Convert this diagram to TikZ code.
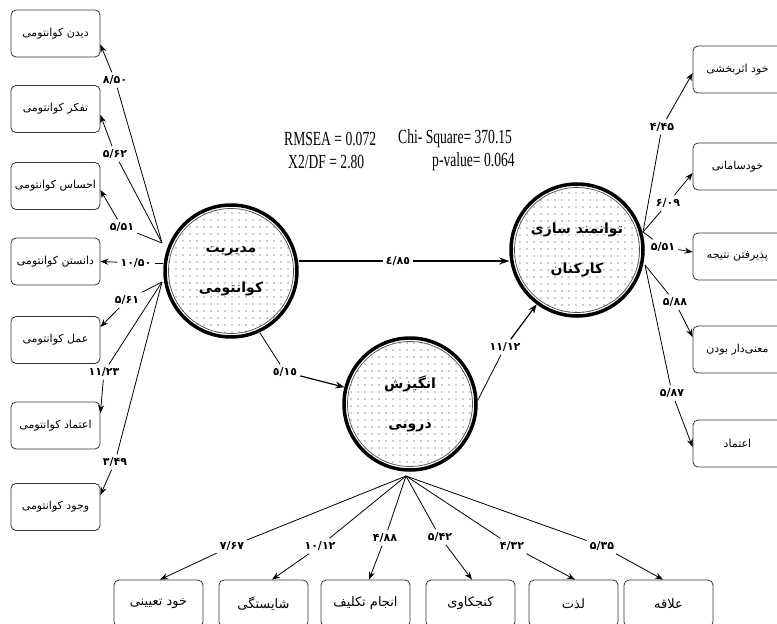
\documentclass[tikz,border=0pt]{standalone}
\usepackage{fontspec}
\usepackage{graphicx}
\setmainfont{Liberation Serif}
\newfontfamily\fa[Script=Arabic]{DejaVu Sans}
\TeXXeTstate=1
\usetikzlibrary{arrows.meta,patterns.meta,calc}
\newcommand{\statt}[1]{\scalebox{0.68}[1]{\fontsize{20}{22}\selectfont #1}}
\tikzset{
  lat/.style={circle, draw, line width=3.5pt, minimum size=132pt, inner sep=0pt,
    pattern={Dots[distance=6.5pt,radius=0.65pt]}, pattern color=black!85,
    align=center, font=\fa\bfseries\fontsize{14}{40}\selectfont},
  ring/.style={draw=black!70, line width=0.7pt},
  box/.style={draw=black!80, line width=0.8pt, rounded corners=5pt, minimum width=89pt,
    minimum height=47pt, inner sep=0pt, font=\fa\fontsize{11}{13}\selectfont},
  bbox/.style={box, font=\fa\fontsize{13}{15}\selectfont},
  lab/.style={inner sep=3pt, font=\fa\bfseries\fontsize{11}{12}\selectfont},
  con/.style={line width=0.8pt},
  arr/.style={con, -{Stealth[length=8pt,width=6pt]}},
  stat/.style={anchor=west, inner sep=0pt},
}
\begin{document}
\begin{tikzpicture}[x=1pt,y=-1pt]
\useasboundingbox (0,0) rectangle (777,624);
% latent variables
\node[lat] (L) at (231,271) {\beginR مدیریت\endR\\\beginR کوانتومی\endR};
\node[lat] (R) at (577,250) {\beginR توانمند سازی\endR\\\beginR کارکنان\endR};
\node[lat] (M) at (410,404) {\beginR انگیزش\endR\\\beginR درونی\endR};
\draw[ring] (L.center) circle[radius=62.5];
\draw[ring] (R.center) circle[radius=62.5];
\draw[ring] (M.center) circle[radius=62.5];
% fit statistics
\node[stat] (s1) at (284,139) {\statt{RMSEA = 0.072}};
\node[stat] (s2) at (398,139) {\statt{Chi- Square= 370.15}};
\node[stat] (s3) at (288,162) {\statt{X2/DF = 2.80}};
\node[stat] (s4) at (432,162) {\statt{p-value= 0.064}};
% left indicators
\node[box] (b1) at (55.5,33.5) {\beginR دیدن کوانتومی\endR};
\node[box] (b2) at (55.5,109) {\beginR تفکر کوانتومی\endR};
\node[box] (b3) at (55.5,186) {\beginR احساس کوانتومی\endR};
\node[box] (b4) at (55.5,261.5) {\beginR دانستن کوانتومی\endR};
\node[box] (b5) at (55.5,340) {\beginR عمل کوانتومی\endR};
\node[box] (b6) at (55.5,425.5) {\beginR اعتماد کوانتومی\endR};
\node[box] (b7) at (55.5,507) {\beginR وجود کوانتومی\endR};
% right indicators
\node[box] (r1) at (737.5,69.5) {\beginR خود اثربخشی\endR};
\node[box] (r2) at (737.5,166.5) {\beginR خودسامانی\endR};
\node[box] (r3) at (737.5,256.5) {\beginR پذیرفتن نتیجه\endR};
\node[box] (r4) at (737.5,349.5) {\beginR معنی‌دار بودن\endR};
\node[box] (r5) at (737.5,443.5) {\beginR اعتماد\endR};
% bottom indicators
\node[bbox] (c1) at (158.5,603.5) {\beginR خود تعیینی\endR};
\node[bbox] (c2) at (263.5,603.5) {\beginR شایستگی\endR};
\node[bbox] (c3) at (365.5,603.5) {\beginR انجام تکلیف\endR};
\node[bbox] (c4) at (470.5,603.5) {\beginR کنجکاوی\endR};
\node[bbox] (c5) at (573.5,603.5) {\beginR لذت\endR};
\node[bbox] (c6) at (668.5,603.5) {\beginR علاقه\endR};
% loading labels
\node[lab] (l1) at (115,80) {۸/۵۰};
\node[lab] (l2) at (115,154) {۵/۶۲};
\node[lab] (l3) at (122,227) {۵/۵۱};
\node[lab] (l4) at (136,263) {۱۰/۵۰};
\node[lab] (l5) at (127,300) {۵/۶۱};
\node[lab] (l6) at (104,372) {۱۱/۲۳};
\node[lab] (l7) at (115,462) {۳/۴۹};
\node[lab] (q1) at (662,127) {۴/۴۵};
\node[lab] (q2) at (668,203) {۶/۰۹};
\node[lab] (q3) at (663,247) {۵/۵۱};
\node[lab] (q4) at (675,302) {۵/۸۸};
\node[lab] (q5) at (672,393) {۵/۸۷};
\node[lab] (d1) at (232,546) {۷/۶۷};
\node[lab] (d2) at (320,546) {۱۰/۱۲};
\node[lab] (d3) at (385,538) {۴/۸۸};
\node[lab] (d4) at (440,537) {۵/۴۲};
\node[lab] (d5) at (512,546) {۴/۳۲};
\node[lab] (d6) at (602,546) {۵/۳۵};
\node[lab] (m1) at (398,261) {٤/٨٥};
\node[lab] (m2) at (285,372) {٥/١٥};
\node[lab] (m3) at (505,347) {۱۱/۱۲};
% source points
\coordinate (Lu) at (162,243);
\coordinate (Ll) at (162,282);
\coordinate (Ru) at (643,232);
\coordinate (Rl) at (645,265);
\coordinate (fan) at (406,476);
% structural paths
\draw[line width=1.4pt] (L.east |- m1) -- (m1);
\draw[line width=1.4pt, -{Stealth[length=10pt,width=7pt]}] (m1) -- (R.west |- m1);
\draw[con] (L.-65) -- (m2);
\draw[line width=1.2pt, -{Stealth[length=9pt,width=7pt]}] (m2) -- (M);
\draw[con] (M.3) -- (m3);
\draw[line width=1.2pt, -{Stealth[length=9pt,width=7pt]}] (m3) -- (R);
% left measurement
\draw[con] (Lu) -- (l1); \draw[arr] (l1) -- ($(b1.east)+(0,11)$);
\draw[con] (Lu) -- (l2); \draw[arr] (l2) -- ($(b2.east)+(0,6)$);
\draw[con] (Lu) -- (l3); \draw[arr] (l3) -- ($(b3.east)+(0,4)$);
\draw[con] (L.west |- l4) -- (l4); \draw[arr] (l4) -- (b4.east);
\draw[con] (Ll) -- (l5); \draw[arr] (l5) -- ($(b5.east)+(0,-13)$);
\draw[con] (Ll) -- (l6); \draw[arr] (l6) -- ($(b6.east)+(0,-12.5)$);
\draw[con] (Ll) -- (l7); \draw[arr] (l7) -- ($(b7.east)+(0,-12)$);
% right measurement
\draw[con] (Ru) -- (q1); \draw[arr] (q1) -- ($(r1.west)+(0,3.5)$);
\draw[con] (Ru) -- (q2); \draw[arr] (q2) -- ($(r2.west)+(0,6.5)$);
\draw[con] (Ru) -- (q3); \draw[arr] (q3) -- ($(r3.west)+(0,-4.5)$);
\draw[con] (Rl) -- (q4); \draw[arr] (q4) -- ($(r4.west)+(0,-12.5)$);
\draw[con] (Rl) -- (q5); \draw[arr] (q5) -- ($(r5.west)+(0,3.5)$);
% bottom measurement
\draw[con] (fan) -- (d1); \draw[arr] (d1) -- ($(c1.north)+(1.5,0)$);
\draw[con] (fan) -- (d2); \draw[arr] (d2) -- ($(c2.north)+(8.5,0)$);
\draw[con] (fan) -- (d3); \draw[arr] (d3) -- ($(c3.north)+(3.5,0)$);
\draw[con] (fan) -- (d4); \draw[arr] (d4) -- ($(c4.north)+(1.5,0)$);
\draw[con] (fan) -- (d5); \draw[arr] (d5) -- ($(c5.north)+(1.5,0)$);
\draw[con] (fan) -- (d6); \draw[arr] (d6) -- ($(c6.north)+(-5.5,0)$);
\end{tikzpicture}
\end{document}
